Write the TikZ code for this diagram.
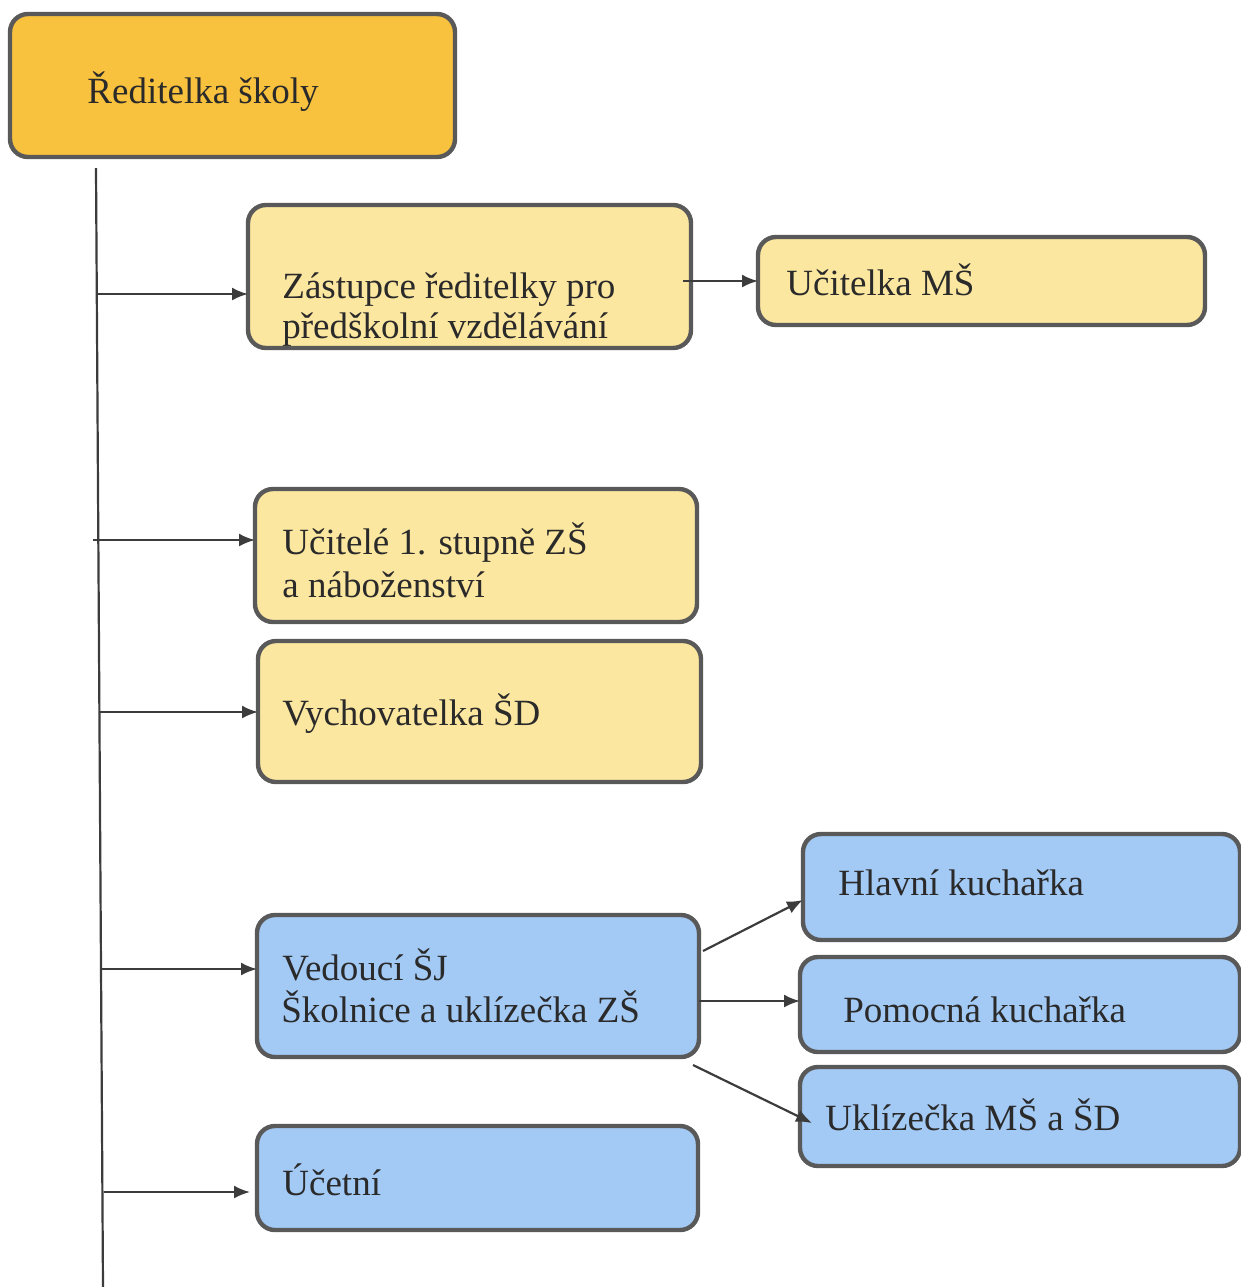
\documentclass[tikz,border=0pt]{standalone}
\usepackage{fontspec}
\setmainfont{Liberation Serif}
\usetikzlibrary{arrows.meta}
\definecolor{topfill}{HTML}{F8C13E}
\definecolor{yfill}{HTML}{FCE7A0}
\definecolor{bfill}{HTML}{A3C9F5}
\definecolor{edge}{HTML}{595959}
\definecolor{ink}{HTML}{2A2A2A}
\definecolor{linec}{HTML}{3C3C3C}
\begin{document}
\begin{tikzpicture}[x=0.5pt,y=-0.5pt,
  box/.style={draw=edge,line width=2.2pt,rounded corners=9pt,inner sep=0pt,outer sep=0pt},
  topbox/.style={box,fill=topfill},
  ybox/.style={box,fill=yfill},
  bbox/.style={box,fill=bfill},
  lbl/.style={anchor=base west,inner sep=0pt,text=ink,font=\fontsize{18.5pt}{22pt}\selectfont},
  arr/.style={draw=linec,line width=1.1pt,-{Latex[length=8pt,width=6.5pt]}},
  trunk/.style={draw=linec,line width=1.1pt}]
\useasboundingbox (0,0) rectangle (1241,1287);
% boxes
\node[topbox,minimum width=222.5pt,minimum height=71.5pt] (ri) at (232.5,85.5) {};
\node[ybox,minimum width=221.5pt,minimum height=71.5pt] (zr) at (469.5,276.5) {};
\node[ybox,minimum width=223.5pt,minimum height=44pt] (ms) at (981.5,281) {};
\node[ybox,minimum width=221pt,minimum height=66.5pt] (uc) at (476,555.5) {};
\node[ybox,minimum width=221.5pt,minimum height=70.5pt] (vy) at (479.5,711.5) {};
\node[bbox,minimum width=221pt,minimum height=71pt] (ve) at (478,986) {};
\node[bbox,minimum width=220.5pt,minimum height=52pt] (ut) at (477.5,1178) {};
\node[bbox,minimum width=218.5pt,minimum height=53pt] (hk) at (1021.5,887) {};
\node[bbox,minimum width=220pt,minimum height=47.5pt] (pk) at (1020,1004.5) {};
\node[bbox,minimum width=220pt,minimum height=49.5pt] (uk) at (1020,1116.5) {};
% labels
\node[lbl] (t1) at (87,103) {Ředitelka školy};
\node[lbl] (t2a) at (282,298) {Zástupce ředitelky pro};
\node[lbl] (t2b) at (282,338) {předškolní vzdělávání};
\node[lbl] (t3) at (786,295) {Učitelka MŠ};
\node[lbl] (t4a) at (282,554) {Učitelé 1. stupně ZŠ};
\node[lbl] (t4b) at (282,597) {a náboženství};
\node[lbl] (t5) at (282,725) {Vychovatelka ŠD};
\node[lbl] (t6a) at (282,980) {Vedoucí ŠJ};
\node[lbl] (t6b) at (281,1022) {Školnice a uklízečka ZŠ};
\node[lbl] (t7) at (282,1195) {Účetní};
\node[lbl] (t8) at (838,895) {Hlavní kuchařka};
\node[lbl] (t9) at (843,1022) {Pomocná kuchařka};
\node[lbl] (t10) at (825,1130) {Uklízečka MŠ a ŠD};
% trunk
\coordinate (ts) at (96,168);
\coordinate (te) at (103,1287);
\draw[trunk] (ts) -- (te);
\coordinate (a1) at (96.5,294);
\coordinate (a2) at (93,540);
\coordinate (a3) at (99.5,712);
\coordinate (a4) at (101,969);
\coordinate (a5) at (104,1192);
\draw[arr] (a1) -- (a1 -| zr.west);
\draw[arr] (a2) -- (a2 -| uc.west);
\draw[arr] (a3) -- (a3 -| vy.west);
\draw[arr] (a4) -- (a4 -| ve.west);
\draw[arr] (a5) -- ([xshift=-3.5pt]a5 -| ut.west);
% right side
\draw[arr] ([xshift=-4pt]zr.east |- ms.west) -- (ms.west);
\draw[arr] ([yshift=17.5pt,xshift=2pt]ve.east) -- ([yshift=-6.5pt]hk.west);
\draw[arr] ([yshift=-7.5pt]ve.east) -- ([yshift=1.75pt]pk.west);
\draw[arr] ([xshift=-3pt,yshift=-39.5pt]ve.east) -- ([xshift=6pt,yshift=-3.25pt]uk.west);
\end{tikzpicture}
\end{document}
